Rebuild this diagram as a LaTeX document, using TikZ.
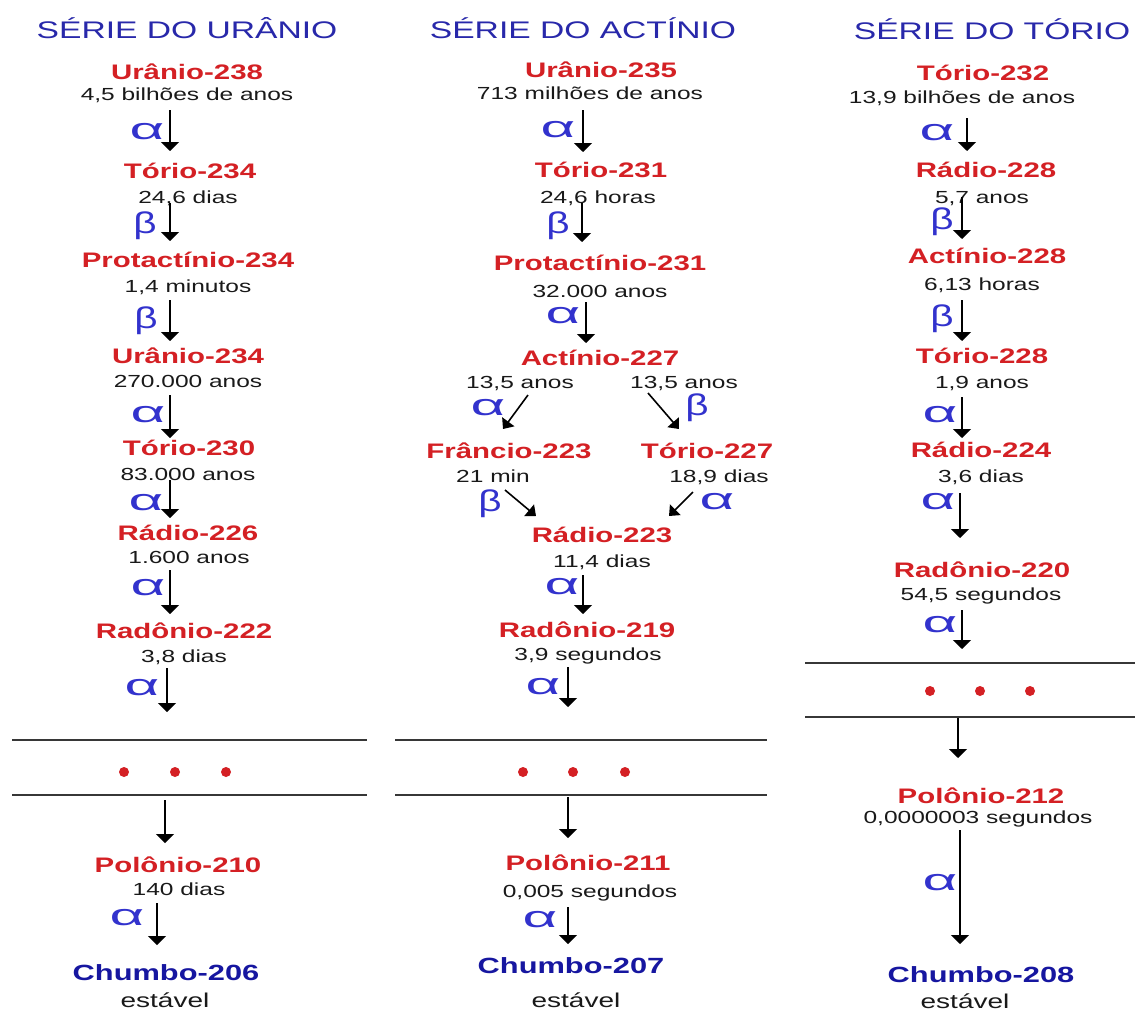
\documentclass[tikz,border=0pt]{standalone}
\usepackage{fontspec}
\usepackage{graphicx}
\setmainfont{Liberation Sans}[FakeStretch=1.4]
\newfontfamily\grkfont{Liberation Sans}
\usetikzlibrary{arrows.meta}
\definecolor{nred}{RGB}{212,32,36}
\definecolor{hblue}{RGB}{40,40,170}
\definecolor{gblue}{RGB}{50,50,205}
\definecolor{pbblue}{RGB}{22,22,160}
\definecolor{ttext}{RGB}{25,25,25}
\definecolor{sepc}{RGB}{55,55,55}
\newcommand\alf{\scalebox{2.0}[1]{α}}
\newcommand\bet{\scalebox{1.35}[1]{β}}
\begin{document}
\begin{tikzpicture}[x=1pt,y=-1pt,
  every node/.style={inner sep=0pt, outer sep=0pt},
  header/.style={anchor=base, text=hblue, font=\fontsize{24}{28}\selectfont},
  nuc/.style={anchor=base, text=nred, font=\bfseries\fontsize{21}{25}\selectfont},
  stable/.style={anchor=base, text=pbblue, font=\bfseries\fontsize{22}{26}\selectfont},
  hl/.style={anchor=base, text=ttext, font=\fontsize{17.5}{21}\selectfont},
  hlbig/.style={anchor=base, text=ttext, font=\fontsize{20}{24}\selectfont},
  decay/.style={text=gblue, font=\grkfont\fontsize{30}{34}\selectfont},
  arr/.style={line width=1.6pt, -{Triangle[width=18pt,length=9pt]}},
  darr/.style={line width=1.6pt, -{Triangle[width=15pt,length=9pt]}},
  sep/.style={line width=1.8pt, draw=sepc},
  dotn/.style={circle, fill=nred, minimum size=10pt}
]
\useasboundingbox[fill=white] (0,0) rectangle (1135,1010);

% ---------- Column 1: Uranium series ----------
\node[header] (h1) at (187,38) {SÉRIE DO URÂNIO};
\node[nuc] (u238) at (187,79) {Urânio-238};
\node[hl] (u238t) at (187,100) {4,5 bilhões de anos};
\node[nuc] (th234) at (190,178) {Tório-234};
\node[hl] (th234t) at (188,203) {24,6 dias};
\node[nuc] (pa234) at (188,267) {Protactínio-234};
\node[hl] (pa234t) at (188,292) {1,4 minutos};
\node[nuc] (u234) at (188,363) {Urânio-234};
\node[hl] (u234t) at (188,387) {270.000 anos};
\node[nuc] (th230) at (189,455) {Tório-230};
\node[hl] (th230t) at (188,480) {83.000 anos};
\node[nuc] (ra226) at (188,540) {Rádio-226};
\node[hl] (ra226t) at (189,563) {1.600 anos};
\node[nuc] (rn222) at (184,638) {Radônio-222};
\node[hl] (rn222t) at (184,662) {3,8 dias};
\node[nuc] (po210) at (178,872) {Polônio-210};
\node[hl] (po210t) at (179,895) {140 dias};
\node[stable] (pb206) at (166,980) {Chumbo-206};
\node[hlbig] (pb206t) at (165,1007) {estável};

\node[decay] (g1a) at (147,132) {\alf};
\node[decay] (g1b) at (145,226) {\bet};
\node[decay] (g1c) at (146,321) {\bet};
\node[decay] (g1d) at (148,415) {\alf};
\node[decay] (g1e) at (146,503) {\alf};
\node[decay] (g1f) at (148,588) {\alf};
\node[decay] (g1g) at (142,688) {\alf};
\node[decay] (g1h) at (127,918) {\alf};

\coordinate (a1s) at (170,110); \coordinate (a1e) at (170,151);
\coordinate (a2s) at (170,203); \coordinate (a2e) at (170,241);
\coordinate (a3s) at (170,300); \coordinate (a3e) at (170,341);
\coordinate (a4s) at (170,395); \coordinate (a4e) at (170,438);
\coordinate (a5s) at (170,480); \coordinate (a5e) at (170,518);
\coordinate (a6s) at (170,570); \coordinate (a6e) at (170,614);
\coordinate (a7s) at (167,668); \coordinate (a7e) at (167,712);
\coordinate (a8s) at (165,800); \coordinate (a8e) at (165,843);
\coordinate (a9s) at (157,903); \coordinate (a9e) at (157,945);
\foreach \i in {1,...,9} \draw[arr] (a\i s) -- (a\i e);

\coordinate (s1a) at (12,740); \coordinate (s1b) at (367,740);
\coordinate (s1c) at (12,795); \coordinate (s1d) at (367,795);
\draw[sep] (s1a) -- (s1b);
\draw[sep] (s1c) -- (s1d);
\node[dotn] (d11) at (124,772) {};
\node[dotn] (d12) at (175,772) {};
\node[dotn] (d13) at (226,772) {};

% ---------- Column 2: Actinium series ----------
\node[header] (h2) at (583,38) {SÉRIE DO ACTÍNIO};
\node[nuc] (u235) at (601,77) {Urânio-235};
\node[hl] (u235t) at (590,99) {713 milhões de anos};
\node[nuc] (th231) at (601,177) {Tório-231};
\node[hl] (th231t) at (598,203) {24,6 horas};
\node[nuc] (pa231) at (600,270) {Protactínio-231};
\node[hl] (pa231t) at (600,297) {32.000 anos};
\node[nuc] (ac227) at (600,365) {Actínio-227};
\node[hl] (ac227l) at (520,388) {13,5 anos};
\node[hl] (ac227r) at (684,388) {13,5 anos};
\node[nuc] (fr223) at (509,458) {Frâncio-223};
\node[nuc] (th227) at (707,458) {Tório-227};
\node[hl] (fr223t) at (493,482) {21 min};
\node[hl] (th227t) at (719,482) {18,9 dias};
\node[nuc] (ra223) at (602,542) {Rádio-223};
\node[hl] (ra223t) at (602,567) {11,4 dias};
\node[nuc] (rn219) at (587,637) {Radônio-219};
\node[hl] (rn219t) at (588,660) {3,9 segundos};
\node[nuc] (po211) at (588,870) {Polônio-211};
\node[hl] (po211t) at (590,897) {0,005 segundos};
\node[stable] (pb207) at (571,973) {Chumbo-207};
\node[hlbig] (pb207t) at (576,1007) {estável};

\node[decay] (g2a) at (558,130) {\alf};
\node[decay] (g2b) at (558,226) {\bet};
\node[decay] (g2c) at (563,316) {\alf};
\node[decay] (g2d) at (488,408) {\alf};
\node[decay] (g2e) at (697,408) {\bet};
\node[decay] (g2f) at (490,504) {\bet};
\node[decay] (g2g) at (717,502) {\alf};
\node[decay] (g2h) at (562,587) {\alf};
\node[decay] (g2i) at (543,687) {\alf};
\node[decay] (g2j) at (540,920) {\alf};

\coordinate (b1s) at (583,110); \coordinate (b1e) at (583,152);
\coordinate (b2s) at (582,203); \coordinate (b2e) at (582,242);
\coordinate (b3s) at (586,302); \coordinate (b3e) at (586,343);
\coordinate (b4s) at (528,395); \coordinate (b4e) at (503,429);
\coordinate (b5s) at (648,393); \coordinate (b5e) at (679,429);
\coordinate (b6s) at (505,490); \coordinate (b6e) at (536,516);
\coordinate (b7s) at (693,492); \coordinate (b7e) at (669,516);
\coordinate (b8s) at (583,575); \coordinate (b8e) at (583,614);
\coordinate (b9s) at (568,667); \coordinate (b9e) at (568,707);
\coordinate (b10s) at (568,797); \coordinate (b10e) at (568,838);
\coordinate (b11s) at (568,907); \coordinate (b11e) at (568,944);
\foreach \i in {1,2,3,8,9,10,11} \draw[arr] (b\i s) -- (b\i e);
\foreach \i in {4,5,6,7} \draw[darr] (b\i s) -- (b\i e);

\coordinate (s2a) at (395,740); \coordinate (s2b) at (767,740);
\coordinate (s2c) at (395,795); \coordinate (s2d) at (767,795);
\draw[sep] (s2a) -- (s2b);
\draw[sep] (s2c) -- (s2d);
\node[dotn] (d21) at (523,772) {};
\node[dotn] (d22) at (573,772) {};
\node[dotn] (d23) at (625,772) {};

% ---------- Column 3: Thorium series ----------
\node[header] (h3) at (992,39) {SÉRIE DO TÓRIO};
\node[nuc] (th232) at (983,80) {Tório-232};
\node[hl] (th232t) at (962,103) {13,9 bilhões de anos};
\node[nuc] (ra228) at (986,177) {Rádio-228};
\node[hl] (ra228t) at (982,203) {5,7 anos};
\node[nuc] (ac228) at (987,263) {Actínio-228};
\node[hl] (ac228t) at (982,290) {6,13 horas};
\node[nuc] (th228) at (982,363) {Tório-228};
\node[hl] (th228t) at (982,388) {1,9 anos};
\node[nuc] (ra224) at (981,457) {Rádio-224};
\node[hl] (ra224t) at (981,482) {3,6 dias};
\node[nuc] (rn220) at (982,577) {Radônio-220};
\node[hl] (rn220t) at (981,600) {54,5 segundos};
\node[nuc] (po212) at (981,803) {Polônio-212};
\node[hl] (po212t) at (978,823) {0,0000003 segundos};
\node[stable] (pb208) at (981,982) {Chumbo-208};
\node[hlbig] (pb208t) at (965,1008) {estável};

\node[decay] (g3a) at (937,133) {\alf};
\node[decay] (g3b) at (942,222) {\bet};
\node[decay] (g3c) at (942,319) {\bet};
\node[decay] (g3d) at (940,415) {\alf};
\node[decay] (g3e) at (938,502) {\alf};
\node[decay] (g3f) at (940,625) {\alf};
\node[decay] (g3g) at (940,883) {\alf};

\coordinate (c1s) at (967,118); \coordinate (c1e) at (967,151);
\coordinate (c2s) at (962,197); \coordinate (c2e) at (962,239);
\coordinate (c3s) at (962,300); \coordinate (c3e) at (962,341);
\coordinate (c4s) at (962,397); \coordinate (c4e) at (962,438);
\coordinate (c5s) at (960,493); \coordinate (c5e) at (960,538);
\coordinate (c6s) at (962,610); \coordinate (c6e) at (962,649);
\coordinate (c7s) at (958,717); \coordinate (c7e) at (958,758);
\coordinate (c8s) at (960,830); \coordinate (c8e) at (960,944);
\foreach \i in {1,...,8} \draw[arr] (c\i s) -- (c\i e);

\coordinate (s3a) at (805,663); \coordinate (s3b) at (1135,663);
\coordinate (s3c) at (805,717); \coordinate (s3d) at (1135,717);
\draw[sep] (s3a) -- (s3b);
\draw[sep] (s3c) -- (s3d);
\node[dotn] (d31) at (930,691) {};
\node[dotn] (d32) at (980,691) {};
\node[dotn] (d33) at (1030,691) {};
\end{tikzpicture}
\end{document}
